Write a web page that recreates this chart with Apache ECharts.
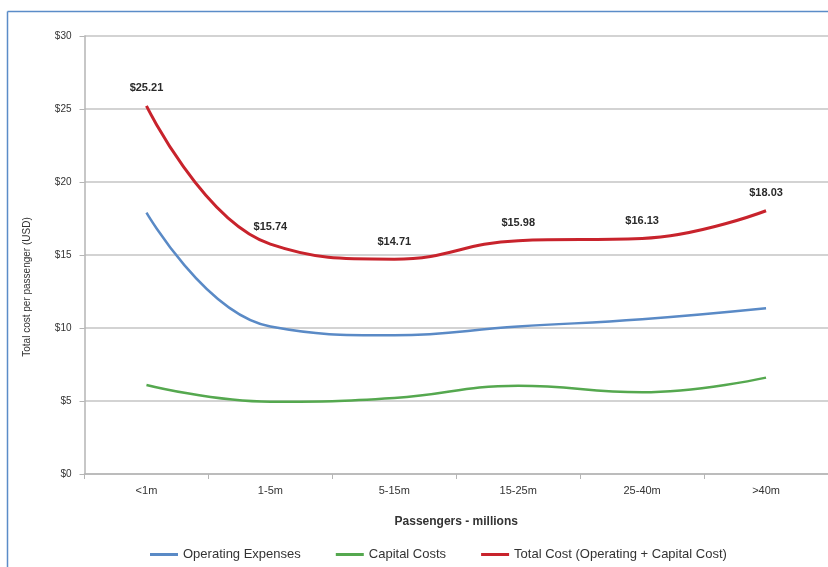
<!DOCTYPE html>
<html>
<head>
<meta charset="utf-8">
<script src="https://cdn.jsdelivr.net/npm/echarts@6/dist/echarts.min.js"></script>
<style>
  html, body { margin: 0; padding: 0; background: #fff; }
  #chart { width: 828px; height: 567px; }
</style>
</head>
<body>
<div id="chart"></div>
<script>
// Airport cost per passenger by size band
const categories = ['<1m', '1-5m', '5-15m', '15-25m', '25-40m', '>40m'];
const operatingExpenses = [17.9, 10.1, 9.5, 10.1, 10.6, 11.35];
const capitalCosts = [6.1, 4.95, 5.2, 6.05, 5.6, 6.6];
const totalCost = [25.21, 15.74, 14.71, 15.98, 16.13, 18.03];
const yTicks = { min: 0, max: 30, step: 5 };

const FONT = 'Liberation Sans, Arial, sans-serif';
const chart = echarts.init(document.getElementById('chart'), null, { renderer: 'canvas' });

chart.setOption({
  backgroundColor: '#ffffff',
  animation: false,
  textStyle: { fontFamily: FONT },
  graphic: [
    { type: 'line', shape: { x1: 7.5, y1: 11.5, x2: 828, y2: 11.5 }, style: { stroke: '#5b8cc8', lineWidth: 1.5 } },
    { type: 'line', shape: { x1: 7.5, y1: 11.5, x2: 7.5, y2: 567 }, style: { stroke: '#5b8cc8', lineWidth: 1.5 } }
  ],
  grid: { left: 84.5, right: 0, top: 36, bottom: 93, containLabel: false },
  legend: {
    left: 145,
    top: 543,
    icon: 'rect',
    itemWidth: 28,
    itemHeight: 3,
    itemGap: 35,
    textStyle: { fontSize: 13, color: '#333', fontFamily: FONT },
    data: ['Operating Expenses', 'Capital Costs', 'Total Cost (Operating + Capital Cost)']
  },
  xAxis: {
    type: 'category',
    data: categories,
    boundaryGap: true,
    name: 'Passengers - millions',
    nameLocation: 'middle',
    nameGap: 42,
    nameTextStyle: { fontSize: 12, fontWeight: 'bold', color: '#333' },
    axisLine: { lineStyle: { color: '#b5b5b5', width: 1.5 } },
    axisTick: { show: true, length: 5, interval: 0, lineStyle: { color: '#b5b5b5' } },
    axisLabel: { fontSize: 11, color: '#333', margin: 11, interval: 0 }
  },
  yAxis: {
    type: 'value',
    min: yTicks.min,
    max: yTicks.max,
    interval: yTicks.step,
    name: 'Total cost per passenger (USD)',
    nameLocation: 'middle',
    nameRotate: 90,
    nameGap: 52,
    nameTextStyle: { fontSize: 10, color: '#333', padding: [0, 64, 0, 0] },
    axisLine: { show: true, lineStyle: { color: '#b5b5b5', width: 1.5 } },
    axisTick: { show: true, length: 5, lineStyle: { color: '#b5b5b5' } },
    axisLabel: { fontSize: 10, color: '#333', margin: 13, formatter: v => '$' + v },
    splitLine: { lineStyle: { color: '#c4c4c4', width: 1.5 } }
  },
  series: [
    {
      name: 'Operating Expenses',
      type: 'line',
      data: operatingExpenses,
      smooth: 0.45,
      showSymbol: false,
      symbol: 'none',
      lineStyle: { color: '#5a8ac6', width: 2.5 },
      itemStyle: { color: '#5a8ac6' }
    },
    {
      name: 'Capital Costs',
      type: 'line',
      data: capitalCosts,
      smooth: 0.45,
      showSymbol: false,
      symbol: 'none',
      lineStyle: { color: '#55a84f', width: 2.5 },
      itemStyle: { color: '#55a84f' }
    },
    {
      name: 'Total Cost (Operating + Capital Cost)',
      type: 'line',
      data: totalCost,
      smooth: 0.45,
      symbol: 'circle',
      symbolSize: 0.1,
      showSymbol: true,
      lineStyle: { color: '#c8232c', width: 3 },
      itemStyle: { color: '#c8232c' },
      label: {
        show: true,
        position: 'top',
        distance: 12,
        fontSize: 11,
        fontWeight: 'bold',
        color: '#2a2a2a',
        fontFamily: FONT,
        formatter: p => '$' + p.value.toFixed(2)
      }
    }
  ]
});
</script>
</body>
</html>
